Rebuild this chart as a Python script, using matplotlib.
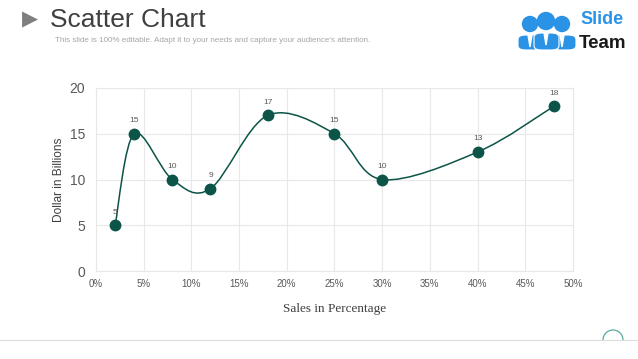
import matplotlib
matplotlib.use('Agg')
from matplotlib import pyplot as plt
from matplotlib.path import Path
from matplotlib.patches import PathPatch, Ellipse, FancyBboxPatch, Polygon, Arc

# data
sales_pct = [2, 4, 8, 12, 18, 25, 30, 40, 48]
dollars_bn = [5, 15, 10, 9, 17, 15, 10, 13, 18]
x_ticks = [0, 5, 10, 15, 20, 25, 30, 35, 40, 45, 50]
y_ticks = [0, 5, 10, 15, 20]

point_color = '#0B5447'
text_grey = '#595959'
grid_grey = '#E8E8E8'
logo_blue = '#2B93E6'

plt.rcParams['font.family'] = ['Liberation Sans', 'DejaVu Sans']

W, H = 638.0, 359.0


def fx(px):
    return px / W


def fy(py):
    return 1 - py / H


def smooth_path(xs, ys):
    # Excel-like smoothed line: cubic bezier segments, catmull-rom tangents
    pts = list(zip(xs, ys))
    n = len(pts)
    verts = [pts[0]]
    codes = [Path.MOVETO]
    for i in range(n - 1):
        p0 = pts[i - 1] if i > 0 else pts[i]
        p1 = pts[i]
        p2 = pts[i + 1]
        p3 = pts[i + 2] if i + 2 < n else pts[i + 1]
        c1 = (p1[0] + (p2[0] - p0[0]) / 6, p1[1] + (p2[1] - p0[1]) / 6)
        c2 = (p2[0] - (p3[0] - p1[0]) / 6, p2[1] - (p3[1] - p1[1]) / 6)
        verts += [c1, c2, p2]
        codes += [Path.CURVE4] * 3
    return Path(verts, codes)


fig = plt.figure(figsize=(6.38, 3.59), dpi=100)
ax = fig.add_axes([0.1505, 0.245, 0.7475, 0.510])

ax.add_patch(PathPatch(smooth_path(sales_pct, dollars_bn), fill=False,
                       edgecolor=point_color, lw=1.1, zorder=2))
ax.plot(sales_pct, dollars_bn, 'o', color=point_color, markersize=7.5, zorder=3)
for x, y in zip(sales_pct, dollars_bn):
    ax.annotate(str(y), (x, y), xytext=(0, 7), textcoords='offset points',
                ha='center', va='bottom', fontsize=6, color=text_grey)

ax.set_xlim(0, 50)
ax.set_ylim(0, 20)
ax.set_xticks(x_ticks)
ax.set_xticklabels(['{}%'.format(t) for t in x_ticks])
ax.set_yticks(y_ticks)
ax.grid(True, color=grid_grey, lw=0.8)
ax.set_axisbelow(True)
for s in ax.spines.values():
    s.set_color(grid_grey)
    s.set_linewidth(0.8)
ax.tick_params(axis='both', length=0, colors=text_grey)
ax.tick_params(axis='y', labelsize=10, pad=8)
ax.tick_params(axis='x', labelsize=7, pad=6)
ax.set_ylabel('Dollar in Billions', fontsize=8.6, color='#404040', labelpad=3)
ax.set_xlabel('Sales in Percentage', fontsize=9.5, color='#404040',
              family='Liberation Serif', labelpad=10)

# title block
fig.text(0.035, 0.945, '\u25B6', fontsize=15, color='#7F7F7F',
         ha='left', va='center', family='DejaVu Sans')
fig.text(0.078, 0.945, 'Scatter Chart', fontsize=19, color='#404040',
         ha='left', va='center')
fig.text(0.086, 0.887, "This slide is 100% editable. Adapt it to your needs and capture your audience's attention.",
         fontsize=5.8, color='#A6A6A6', ha='left', va='center')

# logo: three people
for cx, cy, r in [(530, 24, 7.5), (562, 24, 7.5), (546, 21, 8.5)]:
    fig.add_artist(Ellipse((fx(cx), fy(cy)), 2 * r / W, 2 * r / H, color=logo_blue,
                           transform=fig.transFigure))
for x0, x1, top in [(518, 541, 35), (553, 576, 35), (534, 559, 33)]:
    fig.add_artist(FancyBboxPatch((fx(x0), fy(50)), (x1 - x0) / W, (50 - top) / H,
                                  boxstyle='round,pad=0,rounding_size=0.012',
                                  color=logo_blue, ec='white', lw=0.8,
                                  transform=fig.transFigure))
for tx, top in [(530, 35), (562, 35), (546, 33)]:
    fig.add_artist(Polygon([(fx(tx - 2), fy(top)), (fx(tx + 2), fy(top)),
                            (fx(tx), fy(top + 12))], closed=True, color='white',
                           transform=fig.transFigure))
fig.text(fx(580), fy(20), 'Slide', fontsize=13, fontweight='bold', color=logo_blue,
         ha='left', va='center')
fig.text(fx(579), fy(43), 'Team', fontsize=13.5, fontweight='bold', color='#1A1A1A',
         ha='left', va='center')

# footer line and page marker
fig.add_artist(plt.Line2D([0, 1], [fy(340), fy(340)], color='#DDDDDD',
                          lw=0.8, transform=fig.transFigure))
fig.add_artist(Arc((fx(613), fy(340)), 20 / W, 20 / H, theta1=0, theta2=180,
                   color='#5BA8A0', lw=0.9, transform=fig.transFigure))

fig.savefig('out.png', dpi=100)
